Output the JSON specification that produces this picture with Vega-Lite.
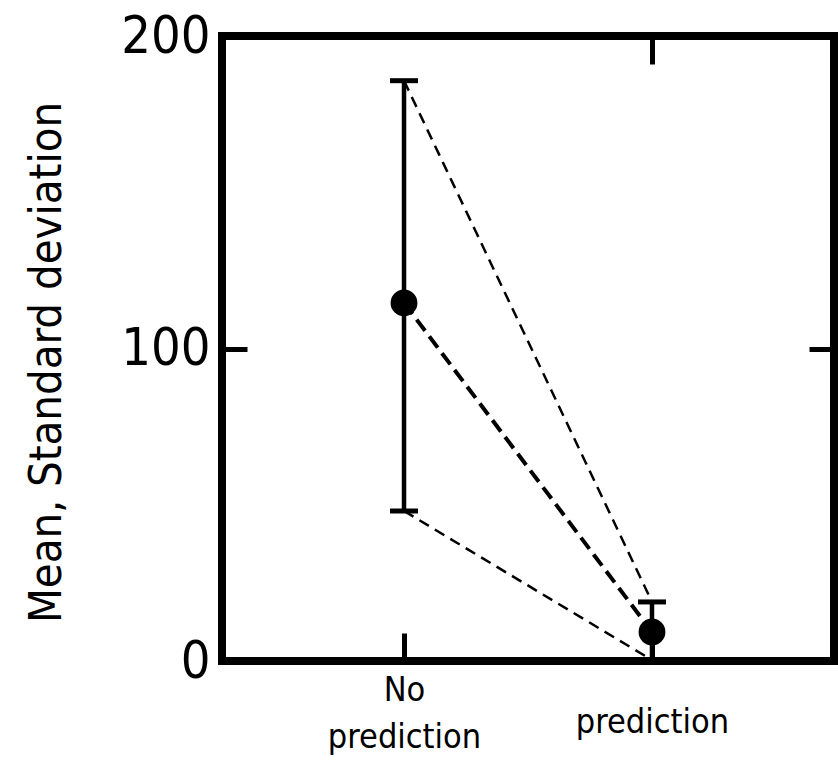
{
  "$schema": "https://vega.github.io/schema/vega-lite/v6.json",
  "width": 612,
  "height": 625,
  "autosize": {"type": "none"},
  "padding": {"left": 222, "top": 36, "right": 4, "bottom": 112},
  "background": "white",
  "data": {
    "values": [
      {"cond": "No prediction", "mean": 114.6, "upper": 185.7, "lower": 48.0},
      {"cond": "prediction", "mean": 9.3, "upper": 18.9, "lower": 0.3}
    ]
  },
  "config": {
    "view": {"stroke": "black", "strokeWidth": 8},
    "axis": {
      "domain": false,
      "grid": false,
      "tickColor": "black",
      "tickWidth": 5,
      "labelColor": "black",
      "titleColor": "black",
      "labelLimit": 0,
      "labelFont": "DejaVu Sans Condensed, DejaVu Sans, sans-serif",
      "titleFont": "DejaVu Sans Condensed, DejaVu Sans, sans-serif",
      "labelFontWeight": "normal",
      "titleFontWeight": "normal"
    }
  },
  "resolve": {"axis": {"x": "independent", "y": "independent"}},
  "layer": [
    {
      "mark": {"type": "rule", "color": "black", "strokeWidth": 4.5},
      "encoding": {
        "x": {
          "field": "cond", "type": "nominal", "sort": null,
          "scale": {"type": "point", "padding": 0.734},
          "axis": {
            "orient": "bottom", "title": null, "labelAngle": 0,
            "tickSize": -28,
            "labelFontSize": 34,
            "labelLineHeight": 47,
            "labelBaseline": "top",
            "labelPadding": {"condition": {"test": "datum.value === 'prediction'", "value": 72}, "value": 40},
            "labelExpr": "datum.value === 'No prediction' ? ['No', 'prediction'] : datum.value"
          }
        },
        "y": {
          "field": "lower", "type": "quantitative",
          "scale": {"domain": [0, 200], "nice": false, "zero": false},
          "axis": {
            "orient": "left",
            "values": [0, 100, 200],
            "tickSize": -25,
            "labelFontSize": 52,
            "labelPadding": 37,
            "labelBaseline": "middle",
            "title": "Mean, Standard deviation",
            "titleFontSize": 45,
            "titleAngle": -90,
            "titleAlign": "center",
            "titleBaseline": "alphabetic",
            "titleX": -162,
            "titleY": 326
          }
        },
        "y2": {"field": "upper"}
      }
    },
    {
      "mark": {"type": "tick", "color": "black", "opacity": 1, "size": 28, "thickness": 5},
      "encoding": {
        "x": {"field": "cond", "type": "nominal", "sort": null, "axis": null},
        "y": {"field": "upper", "type": "quantitative", "axis": null}
      }
    },
    {
      "mark": {"type": "tick", "color": "black", "opacity": 1, "size": 28, "thickness": 5},
      "encoding": {
        "x": {"field": "cond", "type": "nominal", "sort": null, "axis": null},
        "y": {"field": "lower", "type": "quantitative", "axis": null}
      }
    },
    {
      "mark": {"type": "line", "color": "black", "strokeWidth": 2.5, "strokeDash": [11, 7]},
      "encoding": {
        "x": {"field": "cond", "type": "nominal", "sort": null, "axis": null},
        "y": {"field": "upper", "type": "quantitative", "axis": null}
      }
    },
    {
      "mark": {"type": "line", "color": "black", "strokeWidth": 2.5, "strokeDash": [11, 7]},
      "encoding": {
        "x": {"field": "cond", "type": "nominal", "sort": null, "axis": null},
        "y": {"field": "lower", "type": "quantitative", "axis": null}
      }
    },
    {
      "mark": {"type": "line", "color": "black", "strokeWidth": 4, "strokeDash": [14, 7]},
      "encoding": {
        "x": {"field": "cond", "type": "nominal", "sort": null, "axis": null},
        "y": {"field": "mean", "type": "quantitative", "axis": null}
      }
    },
    {
      "mark": {"type": "point", "filled": true, "color": "black", "opacity": 1, "size": 720, "shape": "circle"},
      "encoding": {
        "x": {
          "field": "cond", "type": "nominal", "sort": null,
          "axis": {"orient": "top", "values": ["prediction"], "labels": false, "title": null, "tickSize": -28}
        },
        "y": {
          "field": "mean", "type": "quantitative",
          "axis": {"orient": "right", "values": [100], "labels": false, "title": null, "tickSize": -25}
        }
      }
    }
  ]
}
